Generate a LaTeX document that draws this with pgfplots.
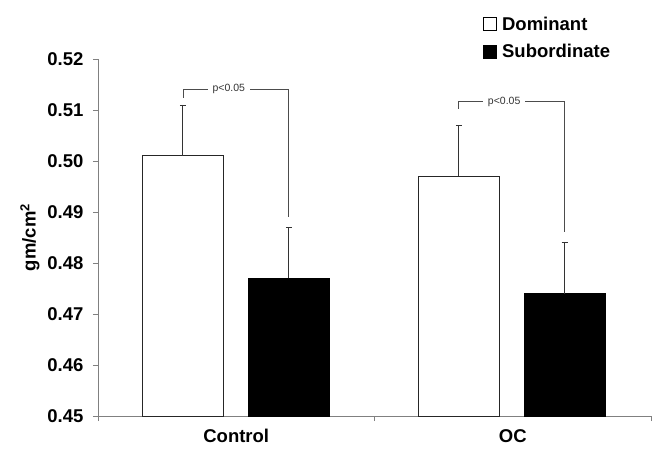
\documentclass[border=0pt]{standalone}
\usepackage{pgfplots}
\pgfplotsset{compat=1.18}
\usepackage{fontspec}
\setmainfont{Liberation Sans}
\begin{document}
\begin{tikzpicture}[x=1pt,y=1pt]
\useasboundingbox (0,0) rectangle (654,-452);
\begin{axis}[
  at={(98pt,-416pt)}, anchor=south west,
  scale only axis, width=553pt, height=357pt,
  xmin=0, xmax=2, ymin=0.45, ymax=0.52,
  axis x line*=bottom, axis y line*=left,
  axis line style={draw=black!50, line width=0.8pt, -},
  tick align=outside, major tick length=5pt,
  tick style={draw=black!50, line width=0.8pt},
  ytick={0.45,0.46,0.47,0.48,0.49,0.50,0.51,0.52},
  scaled y ticks=false,
  yticklabel style={/pgf/number format/.cd, fixed, fixed zerofill, precision=2, /tikz/.cd, xshift=-6pt},
  /pgf/number format/assume math mode=true,
  ticklabel style={font=\bfseries\fontsize{18.5}{18.5}\selectfont},
  xtick={0,1,2}, xticklabels={,,},
  xticklabel style={yshift=-10pt},
  extra x ticks={0.5,1.5}, extra x tick labels={Control,OC},
  extra x tick style={major tick length=0pt, tick style={draw=none}},
  ylabel={gm/cm\textsuperscript{2}},
  ylabel style={font=\bfseries\fontsize{18.5}{18.5}\selectfont, at={(axis description cs:0,0.5)}, anchor=center, yshift=68pt},
  legend style={at={(axis cs:1.39,0.5286)}, anchor=north west, draw=none, fill=none,
    font=\bfseries\fontsize{18.5}{20}\selectfont, row sep=8pt, inner sep=0pt},
  legend cell align=left,
]
\addplot[forget plot, ybar, bar width=0.292, bar shift=0pt, fill=white, draw=black!85, line width=0.9pt,
  error bars/.cd, y dir=plus, y explicit,
  error bar style={line width=0.8pt, black!80},
  error mark options={rotate=90, black!80, line width=0.8pt, mark size=3pt}]
  coordinates {(0.307,0.501) +- (0,0.010) (1.305,0.497) +- (0,0.010)};
\addplot[forget plot, ybar, bar width=0.292, bar shift=0pt, fill=black, draw=black, line width=0.9pt,
  error bars/.cd, y dir=plus, y explicit,
  error bar style={line width=0.8pt, black!80},
  error mark options={rotate=90, black!80, line width=0.8pt, mark size=3pt}]
  coordinates {(0.690,0.477) +- (0,0.010) (1.688,0.474) +- (0,0.010)};
% significance brackets
\addplot[forget plot, black!70, line width=0.7pt] coordinates {(0.307,0.5124) (0.307,0.5141) (0.690,0.5141) (0.690,0.4890)};
\addplot[forget plot, black!70, line width=0.7pt] coordinates {(1.305,0.5102) (1.305,0.5116) (1.688,0.5116) (1.688,0.4861)};
\node[fill=white, inner xsep=5pt, inner ysep=1pt, text=black!80, font=\fontsize{10.5}{10.5}\selectfont] at (axis cs:0.473,0.5141) {p<0.05};
\node[fill=white, inner xsep=5pt, inner ysep=1pt, text=black!80, font=\fontsize{10.5}{10.5}\selectfont] at (axis cs:1.469,0.5116) {p<0.05};
\addlegendimage{legend image code/.code={\draw[fill=white,draw=black,line width=0.8pt] (0pt,-6pt) rectangle (13pt,7pt); \path (17pt,0pt);}}
\addlegendentry{Dominant}
\addlegendimage{legend image code/.code={\draw[fill=black,draw=black] (0pt,-6pt) rectangle (13pt,7pt); \path (17pt,0pt);}}
\addlegendentry{Subordinate}
\end{axis}
\end{tikzpicture}
\end{document}
